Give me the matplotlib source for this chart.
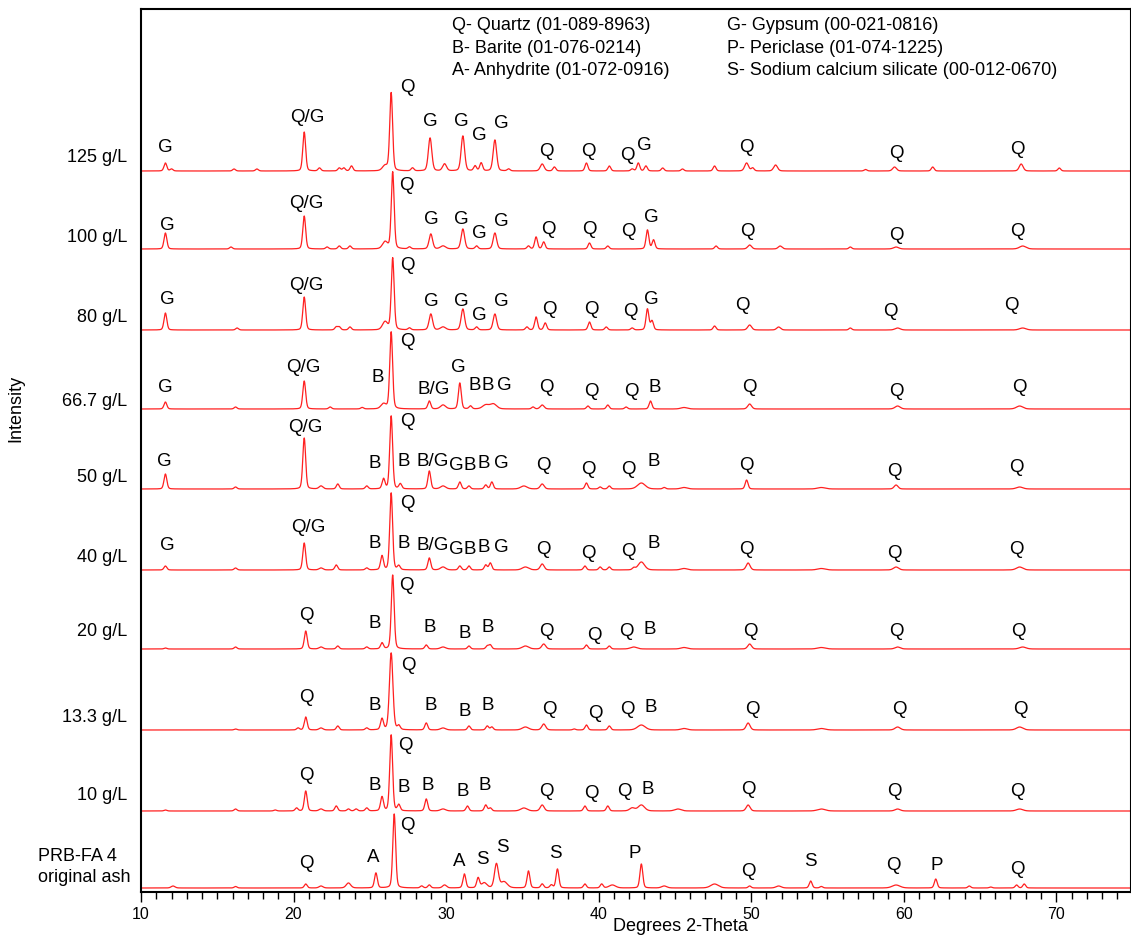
"""
Stacked XRD patterns of the PRB-FA 4 ash and its treated residues.
"""

import matplotlib
matplotlib.use("Agg")
import matplotlib.pyplot as plt
import matplotlib.transforms as mtransforms
import numpy as np

plt.rcParams["font.family"] = ["Liberation Sans", "DejaVu Sans"]

# sample names, bottom to top, and the vertical offset of each trace
samples = ["PRB-FA 4\noriginal ash", "10 g/L", "13.3 g/L", "20 g/L", "40 g/L",
           "50 g/L", "66.7 g/L", "80 g/L", "100 g/L", "125 g/L"]
offsets = [4, 81, 162, 243, 322, 403, 483, 562, 643, 721]
name_dy = [21, 15, 13, 17, 13, 12, 8, 12, 12, 13]

# peaks: (2-theta, height[, fwhm])
peaks_orig = [(12.1, 2, 0.3), (16.2, 1.5), (20.8, 4), (21.8, 2, 0.3), (23.6, 5, 0.35),
              (25.4, 15), (26.6, 74), (28.4, 2), (28.9, 3), (29.9, 3, 0.3),
              (31.2, 14), (32.1, 10), (32.5, 5, 0.4), (33.3, 24, 0.3), (33.8, 6, 0.5),
              (35.4, 17), (36.3, 4), (36.9, 3), (37.3, 19), (39.1, 4), (40.2, 4),
              (40.9, 3, 0.5), (42.8, 24), (44.3, 2, 0.4), (47.6, 4, 0.6), (49.9, 2),
              (51.8, 2, 0.4), (53.9, 7), (54.6, 1.5), (59.5, 3, 0.6), (62.1, 9),
              (64.3, 2), (65.7, 1), (67.4, 3), (67.9, 4)]
peaks_10 = [(11.6, 1), (16.2, 2), (18.8, 1), (20.2, 3), (20.8, 20), (21.8, 2, 0.3),
            (22.8, 5), (23.6, 2), (24.1, 2), (24.8, 3), (25.8, 14), (26.4, 76),
            (26.9, 6), (28.7, 12), (29.8, 2, 0.4), (31.4, 5), (32.6, 6), (32.9, 3),
            (35.1, 3, 0.5), (36.3, 6, 0.3), (39.1, 5), (40.6, 5), (42.2, 3, 0.4),
            (42.8, 6, 0.5), (45.2, 2, 0.5), (49.8, 6, 0.3), (54.6, 2, 0.6),
            (59.6, 2, 0.4), (67.6, 2, 0.5)]
peaks_13 = [(16.2, 1), (20.3, 2), (20.8, 13), (21.8, 2, 0.3), (22.9, 4), (24.8, 2),
            (25.8, 11), (26.4, 77, 0.27), (26.9, 4), (28.7, 7), (29.8, 2, 0.4),
            (31.5, 4), (32.7, 4), (33.0, 3), (35.2, 3, 0.5), (36.4, 6, 0.3), (38.4, 1),
            (39.2, 5), (40.7, 4), (42.8, 5, 0.6), (45.6, 1.5, 0.5), (49.8, 7, 0.3),
            (54.6, 1.5, 0.6), (59.6, 3, 0.4), (67.6, 3, 0.5)]
peaks_20 = [(11.6, 1), (16.2, 2), (20.8, 18), (21.8, 2, 0.3), (22.9, 3), (24.8, 2),
            (25.8, 6), (26.5, 74), (28.7, 4), (29.8, 2, 0.4), (31.5, 3), (32.7, 3),
            (32.9, 4), (35.2, 3, 0.5), (36.4, 5, 0.3), (39.2, 4), (40.7, 3),
            (42.3, 2, 0.5), (45.6, 1.5, 0.5), (49.9, 5, 0.3), (54.6, 1.5, 0.6),
            (59.6, 2, 0.4), (67.8, 2, 0.5)]
peaks_40 = [(11.6, 4), (16.2, 2), (20.7, 27), (21.8, 2, 0.3), (22.8, 5), (24.8, 2),
            (25.8, 14), (26.4, 77), (26.9, 4), (28.9, 12), (29.8, 3, 0.4), (30.9, 4),
            (31.5, 4), (32.6, 5), (32.9, 7), (35.2, 3, 0.5), (36.3, 6, 0.3), (39.1, 4),
            (40.1, 3), (40.7, 3), (42.3, 2), (42.8, 8, 0.5), (45.6, 1.5, 0.5),
            (49.8, 7, 0.3), (54.6, 1.5, 0.6), (59.5, 3, 0.4), (67.6, 3, 0.5)]
peaks_50 = [(11.6, 15), (16.2, 2), (20.7, 51), (21.8, 3, 0.3), (22.9, 5), (24.8, 3),
            (25.9, 10), (26.4, 73), (27.0, 5), (28.9, 18), (29.8, 3, 0.4), (30.9, 7),
            (31.5, 3), (32.6, 4), (33.0, 7), (35.1, 3, 0.5), (36.3, 5, 0.3), (39.2, 6),
            (40.1, 2), (40.7, 3), (42.8, 6, 0.6), (44.3, 1.5), (45.6, 1.5, 0.5),
            (49.7, 9), (54.6, 1.5, 0.6), (59.5, 4, 0.3), (67.6, 2, 0.5)]
peaks_667 = [(11.6, 7), (16.2, 2), (20.7, 28), (22.4, 2), (24.5, 1.5), (25.9, 5, 0.4),
             (26.4, 77), (28.9, 8), (29.8, 4, 0.4), (30.9, 26), (31.6, 3),
             (32.6, 4, 0.5), (33.1, 5, 0.5), (35.7, 2), (36.3, 4, 0.3), (39.3, 3),
             (40.6, 4), (41.8, 2), (43.4, 8), (45.6, 1.5, 0.5), (49.9, 5, 0.3),
             (59.6, 3, 0.4), (67.6, 3, 0.5)]
peaks_80 = [(11.6, 17), (16.3, 2), (20.7, 33), (22.8, 3), (23.0, 3), (23.7, 3),
            (26.0, 8, 0.4), (26.5, 72), (27.6, 2), (29.0, 16, 0.27), (29.8, 3, 0.4),
            (31.1, 21, 0.27), (32.0, 3), (33.2, 16, 0.27), (35.3, 3), (35.9, 13),
            (36.5, 7), (39.4, 8), (40.5, 3), (42.2, 2), (43.2, 21), (43.5, 9),
            (47.6, 4), (49.9, 5, 0.3), (51.8, 3, 0.3), (56.5, 2), (59.6, 2, 0.4),
            (67.8, 2, 0.5)]
peaks_100 = [(11.6, 16), (15.9, 2), (20.7, 33), (22.2, 2), (23.0, 3), (23.7, 3),
             (26.0, 7, 0.4), (26.5, 77), (27.6, 2), (29.0, 15, 0.27), (29.8, 3, 0.4),
             (31.1, 20, 0.27), (32.0, 3), (33.2, 16, 0.27), (35.4, 3), (35.9, 12),
             (36.4, 7), (39.4, 6), (40.6, 3), (43.2, 19), (43.6, 9), (47.7, 3),
             (49.9, 4, 0.3), (51.9, 3, 0.3), (56.5, 2), (59.5, 2, 0.4), (67.8, 3, 0.5)]
peaks_125 = [(11.6, 8), (12.0, 2), (16.1, 2), (17.6, 2), (20.7, 39), (21.7, 3),
             (23.0, 3), (23.3, 3), (23.8, 5), (26.0, 5, 0.4), (26.4, 78), (27.8, 3),
             (28.95, 33, 0.27), (29.9, 7, 0.3), (31.1, 35, 0.27), (31.9, 5), (32.3, 8),
             (33.2, 31, 0.27), (34.1, 2), (36.3, 7, 0.3), (37.1, 4), (39.2, 8),
             (40.7, 5), (42.2, 2), (42.6, 8), (43.1, 5), (44.2, 3), (45.5, 2),
             (47.6, 5), (49.7, 8, 0.3), (50.1, 3), (51.6, 6, 0.3), (57.5, 1.5),
             (59.4, 4, 0.3), (61.9, 4), (67.7, 7, 0.3), (70.2, 3)]

# phase labels: (text, 2-theta, height above the trace baseline)
labels_orig = [("Q", 20.85, 24), ("A", 25.2, 31), ("Q", 27.45, 62), ("A", 30.85, 27),
               ("S", 32.35, 28), ("S", 33.7, 41), ("S", 37.2, 35), ("P", 42.4, 35),
               ("Q", 49.8, 17), ("S", 53.9, 26), ("Q", 59.3, 22), ("P", 62.15, 23),
               ("Q", 67.45, 19)]
labels_10 = [("Q", 20.85, 36), ("B", 25.35, 25), ("Q", 27.3, 65), ("B", 27.25, 24),
             ("B", 28.8, 25), ("B", 31.1, 19), ("B", 32.55, 25), ("Q", 36.55, 20),
             ("Q", 39.55, 17), ("Q", 41.7, 20), ("B", 43.2, 22), ("Q", 49.8, 21),
             ("Q", 59.4, 20), ("Q", 67.45, 20)]
labels_13 = [("Q", 20.85, 33), ("B", 25.35, 25), ("Q", 27.5, 65), ("B", 29.0, 25),
             ("B", 31.25, 18), ("B", 32.75, 25), ("Q", 36.75, 20), ("Q", 39.8, 17),
             ("Q", 41.9, 20), ("B", 43.4, 22), ("Q", 50.05, 21), ("Q", 59.7, 20),
             ("Q", 67.65, 20)]
labels_20 = [("Q", 20.85, 34), ("B", 25.35, 25), ("Q", 27.4, 63), ("B", 28.95, 22),
             ("B", 31.2, 16), ("B", 32.7, 22), ("Q", 36.6, 17), ("Q", 39.7, 14),
             ("Q", 41.85, 17), ("B", 43.35, 19), ("Q", 49.95, 18), ("Q", 59.55, 17),
             ("Q", 67.5, 17)]
labels_40 = [("G", 11.75, 25), ("Q/G", 21.0, 42), ("B", 25.3, 27), ("Q", 27.45, 67),
             ("B", 27.25, 26), ("B/G", 29.1, 24), ("G", 30.65, 20), ("B", 31.55, 20),
             ("B", 32.5, 23), ("G", 33.6, 23), ("Q", 36.4, 21), ("Q", 39.3, 17),
             ("Q", 41.95, 18), ("B", 43.6, 26), ("Q", 49.7, 21), ("Q", 59.4, 16),
             ("Q", 67.4, 20)]
labels_50 = [("G", 11.5, 28), ("Q/G", 20.8, 61), ("B", 25.35, 26), ("Q", 27.45, 67),
             ("B", 27.25, 27), ("B/G", 29.1, 27), ("G", 30.65, 23), ("B", 31.55, 23),
             ("B", 32.5, 25), ("G", 33.6, 26), ("Q", 36.4, 23), ("Q", 39.3, 19),
             ("Q", 41.95, 20), ("B", 43.6, 28), ("Q", 49.7, 23), ("Q", 59.4, 18),
             ("Q", 67.4, 22)]
labels_667 = [("G", 11.57, 21), ("Q/G", 20.65, 42), ("B", 25.55, 31), ("Q", 27.45, 67),
              ("B/G", 29.2, 20), ("G", 30.8, 42), ("B", 31.85, 23), ("B", 32.7, 24),
              ("G", 33.8, 24), ("Q", 36.6, 21), ("Q", 39.5, 18), ("Q", 42.15, 18),
              ("B", 43.7, 22), ("Q", 49.85, 21), ("Q", 59.55, 18), ("Q", 67.6, 22)]
labels_80 = [("G", 11.7, 30), ("Q/G", 20.85, 45), ("Q", 27.45, 64), ("G", 29.0, 29),
             ("G", 31.0, 29), ("G", 32.2, 14), ("G", 33.6, 28), ("Q", 36.8, 21),
             ("Q", 39.55, 21), ("Q", 42.1, 18), ("G", 43.45, 30), ("Q", 49.4, 24),
             ("Q", 59.1, 19), ("Q", 67.05, 24)]
labels_100 = [("G", 11.7, 24), ("Q/G", 20.85, 45), ("Q", 27.4, 63), ("G", 29.0, 29),
              ("G", 31.0, 29), ("G", 32.2, 15), ("G", 33.6, 28), ("Q", 36.7, 20),
              ("Q", 39.4, 20), ("Q", 41.95, 18), ("G", 43.45, 32), ("Q", 49.75, 18),
              ("Q", 59.5, 13), ("Q", 67.45, 18)]
labels_125 = [("G", 11.57, 24), ("Q/G", 20.9, 53), ("Q", 27.45, 83), ("G", 28.95, 49),
              ("G", 31.0, 50), ("G", 32.2, 35), ("G", 33.6, 48), ("Q", 36.6, 19),
              ("Q", 39.35, 19), ("Q", 41.9, 16), ("G", 43.0, 25), ("Q", 49.7, 23),
              ("Q", 59.5, 17), ("Q", 67.45, 22)]

all_peaks = [peaks_orig, peaks_10, peaks_13, peaks_20, peaks_40,
             peaks_50, peaks_667, peaks_80, peaks_100, peaks_125]
all_labels = [labels_orig, labels_10, labels_13, labels_20, labels_40,
              labels_50, labels_667, labels_80, labels_100, labels_125]

phases_left = ["Q- Quartz (01-089-8963)", "B- Barite (01-076-0214)",
               "A- Anhydrite (01-072-0916)"]
phases_right = ["G- Gypsum (00-021-0816)", "P- Periclase (01-074-1225)",
                "S- Sodium calcium silicate (00-012-0670)"]

two_theta = np.arange(10.0, 75.0, 0.01)


def pattern(peaks):
    """Sum of pseudo-Voigt peaks on a flat background."""
    y = np.zeros_like(two_theta)
    for p in peaks:
        pos, h = p[0], p[1]
        w = p[2] if len(p) > 2 else 0.22
        d = (two_theta - pos) / w
        y += h * (0.75 * np.exp(-4 * np.log(2) * d ** 2) + 0.25 / (1 + 4 * d ** 2))
    return y


fig = plt.figure(figsize=(11.31, 9.41), dpi=100)
ax = fig.add_axes([141 / 1131, 49 / 941, 990 / 1131, 883 / 941])

for peaks, labels, off in zip(all_peaks, all_labels, offsets):
    ax.plot(two_theta, pattern(peaks) + off, color="#ff2020", lw=0.9)
    for txt, x, dy in labels:
        ax.text(x, off + dy, txt, ha="center", va="center", fontsize=13.5)

name_tr = mtransforms.blended_transform_factory(ax.transAxes, ax.transData)
for name, off, dy in zip(samples, offsets, name_dy):
    if "\n" in name:
        ax.text(-0.104, off + dy, name, transform=name_tr, ha="left", va="center",
                fontsize=13, linespacing=1.25)
    else:
        ax.text(-0.014, off + dy, name, transform=name_tr, ha="right", va="center",
                fontsize=13)

for i, (left, right) in enumerate(zip(phases_left, phases_right)):
    y = 0.981 - i * 0.0255
    ax.text(0.314, y, left, transform=ax.transAxes, ha="left", va="center", fontsize=13)
    ax.text(0.592, y, right, transform=ax.transAxes, ha="left", va="center", fontsize=13)

ax.set_xlim(10, 74.9)
ax.set_ylim(0, 883)
ax.set_yticks([])
ax.set_xticks(np.arange(10, 71, 10))
ax.set_xticks(np.arange(10, 75, 1), minor=True)
ax.tick_params(axis="x", which="both", direction="out", labelsize=11.5, width=1.0)
ax.tick_params(axis="x", which="major", length=7)
ax.tick_params(axis="x", which="minor", length=5)
for spine in ax.spines.values():
    spine.set_linewidth(1.5)

ax.set_xlabel("Degrees 2-Theta", fontsize=13)
ax.xaxis.set_label_coords(0.545, -0.03)
ax.set_ylabel("Intensity", fontsize=13)
ax.yaxis.set_label_coords(-0.118, 0.548)

fig.savefig("out.png", dpi=100)
